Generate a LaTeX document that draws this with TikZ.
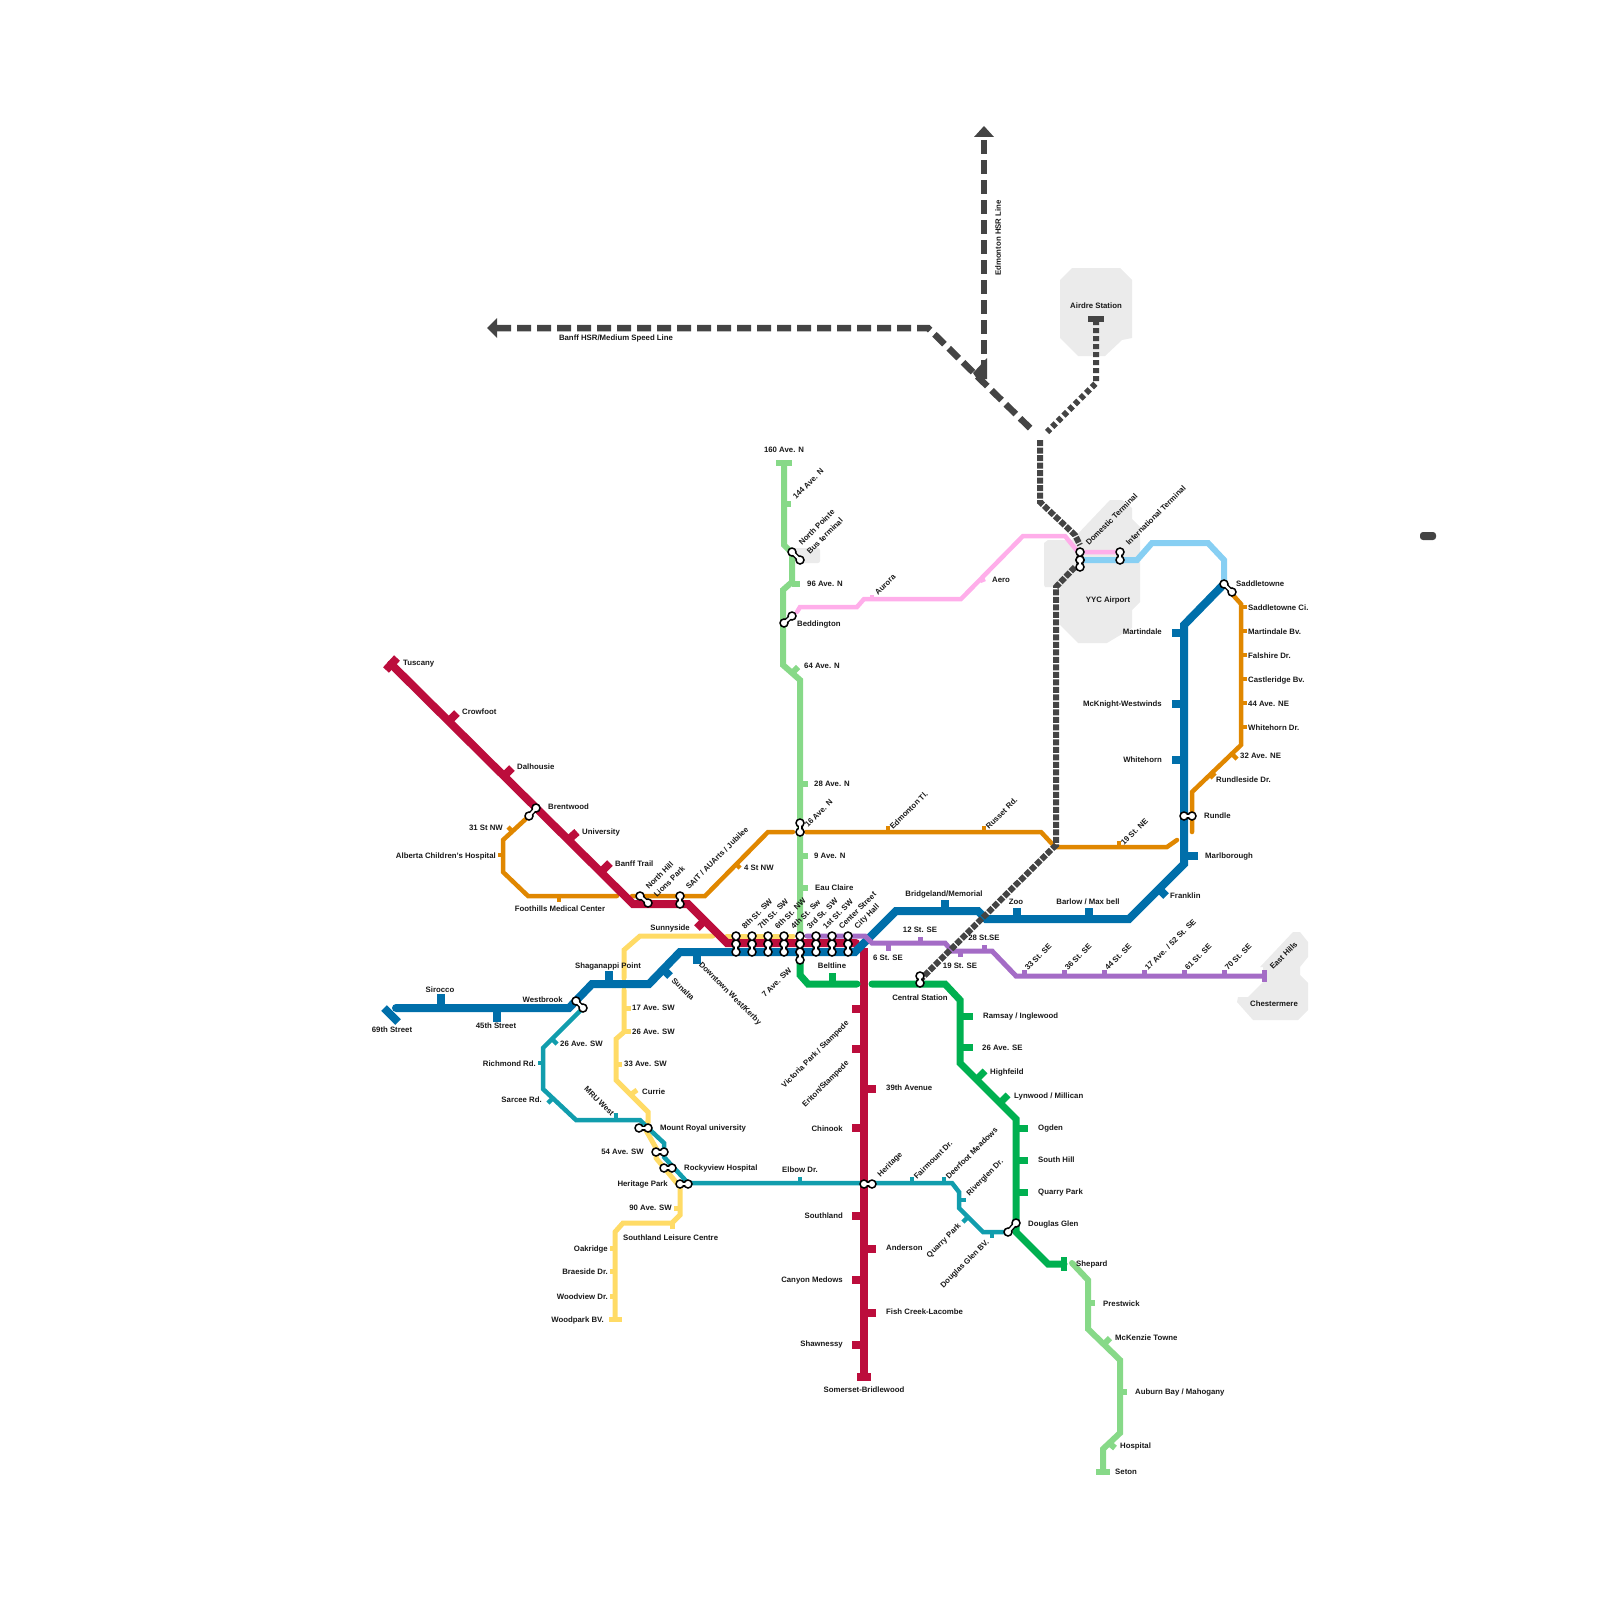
\documentclass[tikz,border=0pt]{standalone}
\usepackage{fontspec}
\setmainfont{Liberation Sans}
\usetikzlibrary{positioning}
\definecolor{lineRed}{HTML}{BC0D3C}
\definecolor{lineBlue}{HTML}{006FAA}
\definecolor{lineOrange}{HTML}{E08700}
\definecolor{lineSpring}{HTML}{87D988}
\definecolor{lineGreen}{HTML}{00B050}
\definecolor{lineTeal}{HTML}{119DAD}
\definecolor{lineYellow}{HTML}{FFDB66}
\definecolor{linePurple}{HTML}{A46CC6}
\definecolor{linePink}{HTML}{FFAEEA}
\definecolor{lineSky}{HTML}{87CFF3}
\definecolor{lineDark}{HTML}{444444}
\definecolor{zoneGray}{HTML}{EBEBEB}
\tikzset{
  lnRed/.style={lineRed, line width=8pt, line cap=round},
  lnBlue/.style={lineBlue, line width=8pt, line cap=round},
  lnOrange/.style={lineOrange, line width=4.5pt, line cap=round},
  lnSpring/.style={lineSpring, line width=6pt, line cap=round},
  lnGreen/.style={lineGreen, line width=7pt, line cap=round},
  lnTeal/.style={lineTeal, line width=4.5pt, line cap=round},
  lnYellow/.style={lineYellow, line width=5pt, line cap=round},
  lnPurple/.style={linePurple, line width=5pt, line cap=round},
  lnPink/.style={linePink, line width=4.5pt, line cap=round},
  lnSky/.style={lineSky, line width=6pt, line cap=round},
  lnHsr/.style={lineDark, line width=6.5pt, dash pattern=on 14pt off 6pt},
  lnAir/.style={lineDark, line width=6pt, dash pattern=on 5pt off 3pt},
  lnDense/.style={lineDark, line width=6pt, dash pattern=on 6pt off 1.5pt},
  stub/.style={line cap=butt},
  zone/.style={fill=zoneGray, draw=none},
  stn/.style={circle, draw=black, fill=white, line width=1.5pt, minimum size=8pt, inner sep=0pt},
  linkB/.style={black, line width=5pt},
  linkW/.style={white, line width=2.2pt},
  lbl/.style={font=\bfseries\fontsize{7.8}{9}\selectfont, inner sep=0pt, text=black!90, yshift=-1pt},
  lblL/.style={lbl, anchor=west},
  lblR/.style={lbl, anchor=east},
  lblUp/.style={lbl, anchor=west, rotate=45},
  lblUpR/.style={lbl, anchor=east, rotate=45},
  lblDn/.style={lbl, anchor=west, rotate=-45},
  lblDnR/.style={lbl, anchor=east, rotate=-45},
}
\newcommand{\xfer}[3]{%
  \path (#2) coordinate (#1a) (#3) coordinate (#1b);
  \draw[linkB] (#1a) -- (#1b);
  \node[stn] (#1p) at (#1a) {};
  \node[stn] (#1q) at (#1b) {};
  \draw[linkW] (#1a) -- (#1b);
}
\begin{document}
\begin{tikzpicture}[x=1pt, y=-1pt]
  \useasboundingbox (0,0) rectangle (1600,1600);
  % grey zones
  \fill[zone] (1072,268) -- (1120,268) -- (1132,280) -- (1132,338) -- (1122,340) -- (1105,356) -- (1078,356) -- (1060,338) -- (1060,280) -- cycle;
  \fill[zone] (1110,500) -- (1122,500) -- (1132,508) -- (1132,519) -- (1140,527) -- (1140,602) -- (1132,610) -- (1132,628) -- (1107,643) -- (1078,643) -- (1060,625) -- (1060,587) -- (1045,587) -- (1044,585) -- (1044,543) -- (1048,540) -- (1072,540) -- cycle;
  \fill[zone, rounded corners=2pt] (795,548) rectangle (820,563);
  \fill[zone] (1293,932) -- (1300,932) -- (1308,942) -- (1308,957) -- (1300,967) -- (1300,975) -- (1308,983) -- (1308,1010) -- (1298,1020) -- (1253,1020) -- (1237,1002) -- (1238,997) -- (1248,997) -- (1263,982) -- (1263,967) -- (1260,967) -- cycle;
  \fill[lineDark, rounded corners=3pt] (1420,532) rectangle (1436,540);

  % lines
  \draw[lnYellow] (624,978) -- (624,950) -- (640,936) -- (713,936);
  \draw[lnYellow] (727,936) -- (793,936);
  \draw[lnYellow] (624,990) -- (624,1032) -- (616,1039) -- (616,1080) -- (648,1112) -- (648,1122) -- (643,1125) -- (656,1148) -- (656,1158) -- (680,1187) -- (680,1215) -- (672,1223) -- (623,1223) -- (615,1232) -- (615,1319);
  \draw[lnTeal] (583,1008) -- (543,1048) -- (543,1089) -- (576,1120) -- (640,1120) -- (648,1128) -- (664,1143) -- (664,1157) -- (688,1183) -- (952,1183) -- (959,1192) -- (959,1208) -- (983,1232) -- (1008,1232);
  \draw[lnSpring] (784,463) -- (784,545) -- (792,553) -- (792,582) -- (783,590) -- (783,665) -- (800,680) -- (800,936);
  \draw[lnSpring] (1072,1263) -- (1088,1280) -- (1088,1329) -- (1120,1360) -- (1120,1433) -- (1103,1449) -- (1103,1472);
  \draw[lnOrange] (529,816) -- (503,840) -- (503,872) -- (528,896) -- (617,896);
  \draw[lnOrange] (632,896) -- (705,896) -- (768,832) -- (793,832);
  \draw[lnOrange] (806,832) -- (1041,832) -- (1055,847) -- (1167,847) -- (1177,840);
  \draw[lnOrange] (1192,832) -- (1192,792) -- (1241,745) -- (1241,604) -- (1232,594);
  \draw[lnPink] (797,612) -- (800,607) -- (857,607) -- (864,599) -- (961,599) -- (1023,536) -- (1065,536) -- (1078,552) -- (1120,552);
  \draw[lnSky] (1080,560) -- (1137,560) -- (1152,543) -- (1208,543) -- (1224,560) -- (1224,580);
  \draw[lnRed] (391,664) -- (633,904) -- (688,904) -- (727,943) -- (856,943);
  \draw[lnRed, stub] (864,948) -- (864,1377);
  \draw[lnGreen] (800,955) -- (800,975) -- (808,984) -- (857,984);
  \draw[lnGreen] (872,984) -- (945,984) -- (960,1000) -- (960,1063) -- (1016,1119) -- (1016,1232) -- (1048,1264) -- (1064,1264);
  \draw[lnBlue] (396,1008) -- (569,1008) -- (592,984) -- (649,984) -- (680,952) -- (855,952) -- (896,911) -- (978,911) -- (986,919) -- (1129,919) -- (1184,864) -- (1184,625) -- (1224,584);
  \draw[lnPurple] (807,936) -- (865,936) -- (872,943) -- (945,943) -- (952,951) -- (992,951) -- (1016,976) -- (1264,976);
  \draw[lnPurple, stub] (1264,970) -- (1264,982);

  % high speed and airport lines
  \draw[lnHsr] (497,328) -- (928,328) -- (1031,429);
  \draw[lnHsr] (984,140) -- (984,378);
  \fill[lineDark] (487,328) -- (497,318) -- (497,338) -- cycle;
  \fill[lineDark] (984,126) -- (974,137) -- (994,137) -- cycle;
  \fill[lineDark] (987,358) -- (973,373) -- (977,379) -- (987,379) -- cycle;
  \draw[lnAir] (1096,320) -- (1096,383) -- (1047,432);
  \draw[lineDark, line width=6pt] (1088,319) -- (1104,319);
  \draw[lnDense] (1040,440) -- (1040,502) -- (1075,535) -- (1080,545);
  \draw[lnDense] (1075,567) -- (1056,587) -- (1056,845) -- (920,980);

  % end bars
  \draw[lnRed, stub] (386,670) -- (397,658);
  \draw[lnBlue, stub] (384,1008) -- (398,1022);
  \draw[lnRed, stub] (857,1377) -- (871,1377);
  \draw[lnSpring, stub] (776,463) -- (792,463);
  \draw[lnSpring, stub] (1096,1472) -- (1110,1472);
  \draw[lnYellow, stub] (609,1319) -- (622,1319);
  \draw[lnGreen, stub, line width=6pt] (1064,1257) -- (1064,1271);

  % red line
  \node[lblL] (tuscany) at (403,663) {Tuscany};
  \draw[lnRed, stub] (449,721) -- (457,713);
  \node[lblL] (crowfoot) at (462,711) {Crowfoot};
  \draw[lnRed, stub] (504,776) -- (512,768);
  \node[lblL] (dalhousie) at (517,766) {Dalhousie};
  \node[lblL] (brentwood) at (548,806) {Brentwood};
  \draw[lnRed, stub] (568,840) -- (577,832);
  \node[lblL] (university) at (582,831) {University};
  \draw[lnRed, stub] (602,871) -- (610,863);
  \node[lblL] (banfftrail) at (615,863) {Banff Trail};
  \node[lblUp] (northhill) at (647,887) {North Hill};
  \node[lblUp] (lionspark) at (655,895) {Lions Park};
  \node[lblUp] (sait) at (687,887) {SAIT / AUArts / Jubilee};
  \draw[lnRed, stub] (705,920) -- (697,928);
  \node[lblR] (sunnyside) at (690,927) {Sunnyside};
  \draw[lnRed, stub] (864,1009) -- (852,1009);
  \draw[lnRed, stub] (864,1049) -- (852,1049);
  \node[lblUpR] (victoria) at (848,1021) {Victoria Park / Stampede};
  \node[lblUpR] (eriton) at (848,1061) {Eriton/Stampede};
  \draw[lnRed, stub] (864,1089) -- (876,1089);
  \node[lblL] (ave39) at (886,1087) {39th Avenue};
  \draw[lnRed, stub] (864,1128) -- (852,1128);
  \node[lblR] (chinook) at (843,1128) {Chinook};
  \draw[lnRed, stub] (864,1216) -- (852,1216);
  \node[lblR] (southland) at (843,1215) {Southland};
  \draw[lnRed, stub] (864,1249) -- (876,1249);
  \node[lblL] (anderson) at (886,1247) {Anderson};
  \draw[lnRed, stub] (864,1280) -- (852,1280);
  \node[lblR] (canyon) at (843,1279) {Canyon Medows};
  \draw[lnRed, stub] (864,1313) -- (876,1313);
  \node[lblL] (fishcreek) at (886,1311) {Fish Creek-Lacombe};
  \draw[lnRed, stub] (864,1345) -- (852,1345);
  \node[lblR] (shawnessy) at (843,1343) {Shawnessy};
  \node[lbl] (somerset) at (864,1389) {Somerset-Bridlewood};

  % blue line
  \node[lbl] (st69) at (392,1029) {69th Street};
  \draw[lnBlue, stub] (441,1008) -- (441,994);
  \node[lbl] (sirocco) at (440,989) {Sirocco};
  \draw[lnBlue, stub] (497,1008) -- (497,1022);
  \node[lbl] (st45) at (496,1025) {45th Street};
  \node[lblR] (westbrook) at (563,999) {Westbrook};
  \draw[lnBlue, stub] (609,984) -- (609,971);
  \node[lbl] (shaganappi) at (608,965) {Shaganappi Point};
  \draw[lnBlue, stub] (663,969) -- (670,976);
  \node[lblDn] (sunalta) at (673,978) {Sunalta};
  \draw[lnBlue, stub] (697,952) -- (697,964);
  \node[lblDn] (kerby) at (700,963) {Downtown West/Kerby};
  \draw[lnBlue, stub] (945,911) -- (945,900);
  \node[lbl] (bridgeland) at (944,893) {Bridgeland/Memorial};
  \draw[lnBlue, stub] (1017,919) -- (1017,908);
  \node[lbl] (zoo) at (1016,901) {Zoo};
  \draw[lnBlue, stub] (1089,919) -- (1089,908);
  \node[lbl] (barlow) at (1088,901) {Barlow / Max bell};
  \draw[lnBlue, stub] (1159,889) -- (1166,896);
  \node[lblL] (franklin) at (1170,895) {Franklin};
  \draw[lnBlue, stub] (1184,856) -- (1198,856);
  \node[lblL] (marlborough) at (1205,855) {Marlborough};
  \node[lblL] (rundle) at (1204,815) {Rundle};
  \draw[lnBlue, stub] (1184,760) -- (1172,760);
  \node[lblR] (whitehorn) at (1162,759) {Whitehorn};
  \draw[lnBlue, stub] (1184,704) -- (1172,704);
  \node[lblR] (mcknight) at (1162,703) {McKnight-Westwinds};
  \draw[lnBlue, stub] (1184,633) -- (1172,633);
  \node[lblR] (martindale) at (1162,631) {Martindale};
  \node[lblL] (saddletowne) at (1236,583) {Saddletowne};

  % orange line
  \draw[lnOrange, stub] (513,832) -- (508,827);
  \node[lblR] (st31) at (503,827) {31 St NW};
  \draw[lnOrange, stub] (503,855) -- (498,855);
  \node[lblR] (alberta) at (496,855) {Alberta Children's Hospital};
  \draw[lnOrange, stub] (559,896) -- (559,902);
  \node[lbl] (foothills) at (560,908) {Foothills Medical Center};
  \draw[lnOrange, stub] (735,863) -- (740,868);
  \node[lblL] (st4) at (744,867) {4 St NW};
  \draw[lnOrange, stub] (888,832) -- (888,826);
  \node[lblUp] (edmontontl) at (891,827) {Edmonton Tl.};
  \draw[lnOrange, stub] (984,832) -- (984,826);
  \node[lblUp] (russet) at (987,827) {Russet Rd.};
  \draw[lnOrange, stub] (1119,847) -- (1119,841);
  \node[lblUp] (st19ne) at (1122,843) {19 St. NE};
  \draw[lnOrange, stub] (1215,773) -- (1210,778);
  \node[lblL] (rundleside) at (1216,779) {Rundleside Dr.};
  \draw[lnOrange, stub] (1232,754) -- (1237,759);
  \node[lblL] (ave32) at (1240,755) {32 Ave. NE};
  \foreach \y/\n/\t in {607/sadci/Saddletowne Ci., 631/marbv/Martindale Bv., 655/falshire/Falshire Dr., 679/castle/Castleridge Bv., 703/ave44/44 Ave. NE, 727/whdr/Whitehorn Dr.}{
    \draw[lnOrange, stub] (1241,\y) -- (1247,\y);
    \node[lblL] (\n) at (1248,\y) {\t};
  }

  % north green line
  \node[lbl] (ave160) at (784,449) {160 Ave. N};
  \draw[lnSpring, stub] (784,504) -- (791,504);
  \node[lblUp] (ave144) at (794,497) {144 Ave. N};
  \node[lblUp] (northpointe) at (800,543) {North Pointe};
  \node[lblUp] (busterminal) at (808,552) {Bus terminal};
  \draw[lnSpring, stub] (792,584) -- (800,584);
  \node[lblL] (ave96) at (807,583) {96 Ave. N};
  \node[lblL] (beddington) at (797,623) {Beddington};
  \draw[lnSpring, stub] (792,673) -- (798,667);
  \node[lblL] (ave64) at (804,665) {64 Ave. N};
  \draw[lnSpring, stub] (800,784) -- (808,784);
  \node[lblL] (ave28) at (814,783) {28 Ave. N};
  \node[lblUp] (ave16) at (806,825) {16 Ave. N};
  \draw[lnSpring, stub] (800,856) -- (808,856);
  \node[lblL] (ave9) at (814,855) {9 Ave. N};
  \draw[lnSpring, stub] (800,888) -- (808,888);
  \node[lblL] (eauclaire) at (815,887) {Eau Claire};

  % downtown labels
  \node[lblUp] (st8) at (743,927) {8th St. SW};
  \node[lblUp] (st7) at (759,927) {7th St. SW};
  \node[lblUp] (st6) at (776,927) {6th St. NW};
  \node[lblUp] (st4sw) at (792,927) {4th St. Sw};
  \node[lblUp] (st3) at (808,927) {3rd St. SW};
  \node[lblUp] (st1) at (824,927) {1st St. SW};
  \node[lblUp] (center) at (840,927) {Center Street};
  \node[lblUp] (cityhall) at (856,927) {City Hall};
  \node[lblUp] (ave7) at (763,995) {7 Ave. SW};

  % dark green line
  \draw[lnGreen, stub] (832,984) -- (832,973);
  \node[lbl] (beltline) at (832,965) {Beltline};
  \node[lbl] (central) at (920,997) {Central Station};
  \draw[lnGreen, stub] (960,1016) -- (973,1016);
  \node[lblL] (ramsay) at (983,1015) {Ramsay / Inglewood};
  \draw[lnGreen, stub] (960,1047) -- (973,1047);
  \node[lblL] (ave26se) at (982,1047) {26 Ave. SE};
  \draw[lnGreen, stub] (977,1079) -- (985,1071);
  \node[lblL] (highfeild) at (990,1071) {Highfeild};
  \draw[lnGreen, stub] (1000,1103) -- (1008,1095);
  \node[lblL] (lynwood) at (1014,1095) {Lynwood / Millican};
  \draw[lnGreen, stub] (1016,1128) -- (1028,1128);
  \node[lblL] (ogden) at (1038,1127) {Ogden};
  \draw[lnGreen, stub] (1016,1160) -- (1028,1160);
  \node[lblL] (southhill) at (1038,1159) {South Hill};
  \draw[lnGreen, stub] (1016,1192) -- (1028,1192);
  \node[lblL] (quarrypark) at (1038,1191) {Quarry Park};
  \node[lblL] (douglasglen) at (1028,1223) {Douglas Glen};
  \node[lblL] (shepard) at (1076,1263) {Shepard};
  \draw[lnSpring, stub] (1088,1303) -- (1095,1303);
  \node[lblL] (prestwick) at (1103,1303) {Prestwick};
  \draw[lnSpring, stub] (1104,1344) -- (1110,1338);
  \node[lblL] (mckenzie) at (1115,1337) {McKenzie Towne};
  \draw[lnSpring, stub] (1120,1392) -- (1127,1392);
  \node[lblL] (auburn) at (1135,1391) {Auburn Bay / Mahogany};
  \draw[lnSpring, stub] (1109,1443) -- (1115,1448);
  \node[lblL] (hospital) at (1120,1445) {Hospital};
  \node[lblL] (seton) at (1115,1471) {Seton};

  % teal line
  \draw[lnTeal, stub] (552,1039) -- (557,1044);
  \node[lblL] (ave26sw) at (560,1043) {26 Ave. SW};
  \draw[lnTeal, stub] (543,1063) -- (538,1063);
  \node[lblR] (richmond) at (536,1063) {Richmond Rd.};
  \draw[lnTeal, stub] (553,1098) -- (548,1103);
  \node[lblR] (sarcee) at (542,1099) {Sarcee Rd.};
  \draw[lnTeal, stub] (616,1120) -- (616,1113);
  \node[lblDnR] (mruwest) at (613,1114) {MRU West};
  \node[lblL] (mountroyal) at (660,1127) {Mount Royal university};
  \node[lblR] (ave54) at (644,1151) {54 Ave. SW};
  \node[lblL] (rockyview) at (684,1167) {Rockyview Hospital};
  \node[lblR] (heritagepark) at (668,1183) {Heritage Park};
  \draw[lnTeal, stub] (800,1183) -- (800,1177);
  \node[lbl] (elbow) at (800,1169) {Elbow Dr.};
  \node[lblUp] (heritage) at (879,1175) {Heritage};
  \draw[lnTeal, stub] (912,1183) -- (912,1177);
  \node[lblUp] (fairmount) at (915,1177) {Fairmount Dr.};
  \draw[lnTeal, stub] (944,1183) -- (944,1177);
  \node[lblUp] (deerfoot) at (947,1177) {Deerfoot Meadows};
  \draw[lnTeal, stub] (959,1200) -- (966,1200);
  \node[lblUp] (riverglen) at (968,1194) {Riverglen Dr.};
  \draw[lnTeal, stub] (968,1217) -- (963,1222);
  \node[lblUpR] (quarryteal) at (960,1224) {Quarry Park};
  \draw[lnTeal, stub] (992,1232) -- (992,1238);
  \node[lblUpR] (douglasbv) at (988,1240) {Douglas Glen BV.};

  % yellow line
  \draw[lnYellow, stub] (624,1008) -- (631,1008);
  \node[lblL] (ave17) at (632,1007) {17 Ave. SW};
  \draw[lnYellow, stub] (624,1031) -- (631,1031);
  \node[lblL] (ave26y) at (632,1031) {26 Ave. SW};
  \draw[lnYellow, stub] (616,1064) -- (622,1064);
  \node[lblL] (ave33) at (624,1063) {33 Ave. SW};
  \draw[lnYellow, stub] (630,1095) -- (637,1090);
  \node[lblL] (currie) at (642,1091) {Currie};
  \draw[lnYellow, stub] (680,1208) -- (674,1208);
  \node[lblR] (ave90) at (672,1207) {90 Ave. SW};
  \draw[lnYellow, stub] (672,1223) -- (672,1229);
  \node[lblL] (southlandlc) at (623,1237) {Southland Leisure Centre};
  \draw[lnYellow, stub] (615,1248) -- (610,1248);
  \node[lblR] (oakridge) at (608,1248) {Oakridge};
  \draw[lnYellow, stub] (615,1271) -- (610,1271);
  \node[lblR] (braeside) at (608,1271) {Braeside Dr.};
  \draw[lnYellow, stub] (615,1296) -- (610,1296);
  \node[lblR] (woodview) at (608,1296) {Woodview Dr.};
  \node[lblR] (woodpark) at (604,1319) {Woodpark BV.};

  % purple line
  \draw[lnPurple, stub] (888,943) -- (888,951);
  \node[lbl] (st6se) at (888,957) {6 St. SE};
  \draw[lnPurple, stub] (920,943) -- (920,937);
  \node[lbl] (st12) at (920,929) {12 St. SE};
  \draw[lnPurple, stub] (960,951) -- (960,957);
  \node[lbl] (st19se) at (960,965) {19 St. SE};
  \draw[lnPurple, stub] (984,951) -- (984,945);
  \node[lbl] (st28) at (984,937) {28 St.SE};
  \foreach \x/\n/\t in {1024/st33/{33 St. SE}, 1064/st36/{36 St. SE}, 1104/st44/{44 St. SE}, 1144/st52/{17 Ave. / 52 St. SE}, 1184/st61/{61 St. SE}, 1224/st70/{70 St. SE}}{
    \draw[lnPurple, stub] (\x,976) -- (\x,970);
    \node[lblUp] (\n) at (\x+2,968) {\t};
  }
  \node[lblUp] (easthills) at (1271,967) {East Hills};
  \node[lbl] (chestermere) at (1274,1003) {Chestermere};

  % pink and airport
  \draw[lnPink, stub] (872,600) -- (872,595);
  \node[lblUp] (aurora) at (876,593) {Aurora};
  \draw[lnPink, stub] (980,581) -- (985,579);
  \node[lblL] (aero) at (992,579) {Aero};
  \node[lbl] (airdre) at (1096,305) {Airdre Station};
  \node[lbl] (yyc) at (1108,599) {YYC Airport};
  \node[lblUp] (domestic) at (1087,543) {Domestic Terminal};
  \node[lblUp] (international) at (1127,543) {International Terminal};
  \node[lbl, rotate=90] (edmontonhsr) at (998,237) {Edmonton HSR Line};
  \node[lbl] (banffhsr) at (616,337) {Banff HSR/Medium Speed Line};

  % interchanges
  \xfer{brent}{529,816}{536,808}
  \xfer{north}{640,896}{648,903}
  \xfer{lions}{680,896}{680,904}
  \xfer{ave}{800,823}{800,832}
  \xfer{point}{792,552}{800,560}
  \xfer{bedd}{792,616}{784,623}
  \xfer{west}{576,1001}{583,1008}
  \xfer{mount}{639,1128}{648,1128}
  \xfer{fifty}{656,1152}{664,1152}
  \xfer{rocky}{664,1168}{672,1168}
  \xfer{park}{680,1184}{688,1184}
  \xfer{herit}{864,1184}{872,1184}
  \xfer{dougl}{1008,1232}{1016,1223}
  \xfer{centr}{920,976}{920,983}
  \xfer{rund}{1184,816}{1192,816}
  \xfer{saddl}{1224,584}{1232,592}
  \xfer{intl}{1120,552}{1120,560}
  \xfer{doma}{1080,552}{1080,560}
  \xfer{domb}{1080,560}{1080,567}
  \foreach \x in {736,752,768,784,800,816,832,848}{
    \xfer{dta\x}{\x,936}{\x,944}
    \xfer{dtb\x}{\x,944}{\x,952}
  }
  \xfer{ave7x}{800,952}{800,960}
\end{tikzpicture}
\end{document}
